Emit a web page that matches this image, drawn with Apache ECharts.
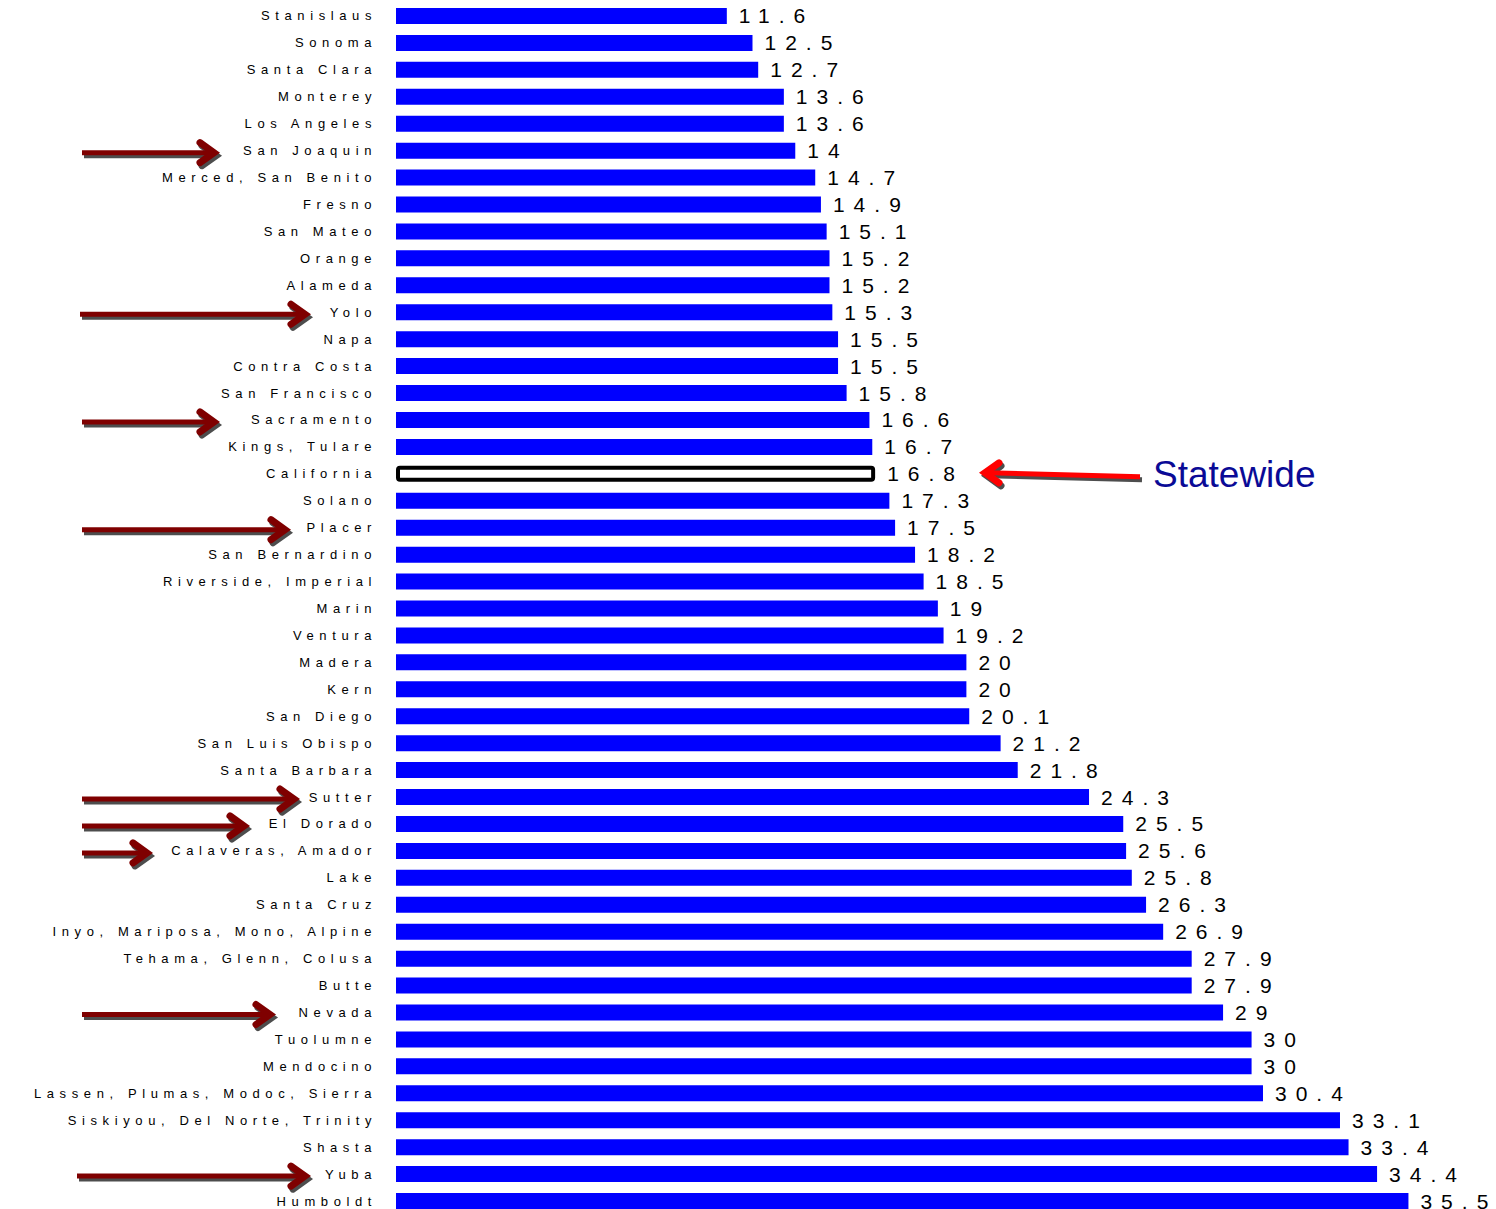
<!DOCTYPE html>
<html>
<head>
<meta charset="utf-8">
<script src="https://cdn.jsdelivr.net/npm/echarts@6/dist/echarts.min.js"></script>
<style>
  html, body { margin: 0; padding: 0; background: #fff; overflow: hidden; }
  #chart { width: 1496px; height: 1220px; }
  /* spaced-out lettering for county names and values */
  #chart svg text[style*="13px"] { letter-spacing: 5.6px; }
  #chart svg text[style*="21px"] { letter-spacing: 9px; }
</style>
</head>
<body>
<div id="chart"></div>
<script>
// Counties, top to bottom
const counties = [
  'Stanislaus', 'Sonoma', 'Santa Clara', 'Monterey', 'Los Angeles', 'San Joaquin',
  'Merced, San Benito', 'Fresno', 'San Mateo', 'Orange', 'Alameda', 'Yolo', 'Napa',
  'Contra Costa', 'San Francisco', 'Sacramento', 'Kings, Tulare', 'California', 'Solano',
  'Placer', 'San Bernardino', 'Riverside, Imperial', 'Marin', 'Ventura', 'Madera', 'Kern',
  'San Diego', 'San Luis Obispo', 'Santa Barbara', 'Sutter', 'El Dorado', 'Calaveras, Amador',
  'Lake', 'Santa Cruz', 'Inyo, Mariposa, Mono, Alpine', 'Tehama, Glenn, Colusa', 'Butte',
  'Nevada', 'Tuolumne', 'Mendocino', 'Lassen, Plumas, Modoc, Sierra',
  'Siskiyou, Del Norte, Trinity', 'Shasta', 'Yuba', 'Humboldt'
];
const rates = [
  11.6, 12.5, 12.7, 13.6, 13.6, 14,
  14.7, 14.9, 15.1, 15.2, 15.2, 15.3, 15.5,
  15.5, 15.8, 16.6, 16.7, 16.8, 17.3,
  17.5, 18.2, 18.5, 19, 19.2, 20, 20,
  20.1, 21.2, 21.8, 24.3, 25.5, 25.6,
  25.8, 26.3, 26.9, 27.9, 27.9,
  29, 30, 30, 30.4,
  33.1, 33.4, 34.4, 35.5
];
// Row that represents the whole state
const statewideName = 'California';
// Highlighted counties (arrow pointing at the name) with the arrow's tail/tip x
const highlighted = ['San Joaquin', 'Yolo', 'Sacramento', 'Placer', 'Sutter', 'El Dorado', 'Calaveras, Amador', 'Nevada', 'Yuba'];
const arrowSpans = [[82, 217], [80, 308], [82, 217], [82, 288], [82, 297], [82, 247], [82, 150], [82, 273], [77, 308]];

const chart = echarts.init(document.getElementById('chart'), null, { renderer: 'svg' });

const barData = counties.map((name, i) => {
  if (name === statewideName) {
    return {
      value: rates[i],
      itemStyle: { color: '#ffffff', borderColor: '#000000', borderWidth: 4, borderRadius: 2 }
    };
  }
  return rates[i];
});

chart.setOption({
  animation: false,
  backgroundColor: '#ffffff',
  grid: { left: 396, top: 2.5, right: 2, height: 1212, containLabel: false },
  xAxis: {
    type: 'value', min: 0, max: 38.5, show: false
  },
  yAxis: {
    type: 'category',
    data: counties,
    inverse: true,
    axisLine: { show: false },
    axisTick: { show: false },
    splitLine: { show: false },
    axisLabel: {
      margin: 19,
      color: '#000000',
      fontFamily: 'Liberation Sans',
      fontSize: 13,
      interval: 0
    }
  },
  series: [{
    type: 'bar',
    data: barData,
    barWidth: 16,
    itemStyle: { color: '#0000ff' },
    label: {
      show: true,
      position: 'right',
      distance: 12,
      color: '#000000',
      fontFamily: 'Liberation Sans',
      fontSize: 21
    }
  }]
});

// Annotation arrow: shaft plus chevron head, with a grey drop copy underneath
function arrowParts(x0, y0, x1, y1, color) {
  const dir = x1 > x0 ? 1 : -1;
  const headLen = 14;
  const headHalf = 10;
  const tipX = x1 - dir * 3;
  const shaft = { lineWidth: 5, stroke: color, fill: null, lineCap: 'butt' };
  const head = { lineWidth: 7, stroke: color, fill: null, lineJoin: 'miter', lineCap: 'round', miterLimit: 10 };
  return [
    { type: 'line', shape: { x1: x0, y1: y0, x2: tipX - dir * 3, y2: y1 }, style: shaft },
    { type: 'polyline', shape: { points: [[tipX - dir * headLen, y1 - headHalf], [tipX, y1], [tipX - dir * headLen, y1 + headHalf]] }, style: head }
  ];
}
function arrow(x0, y0, x1, y1, color) {
  return {
    type: 'group',
    children: arrowParts(x0 + 2, y0 + 3, x1 + 2, y1 + 3, '#4d4d4d')
      .concat(arrowParts(x0, y0, x1, y1, color))
  };
}

const graphics = highlighted.map((name, k) => {
  const y = chart.convertToPixel({ yAxisIndex: 0 }, name) + 2;
  return arrow(arrowSpans[k][0], y, arrowSpans[k][1], y, '#7f0000');
});

const yState = chart.convertToPixel({ yAxisIndex: 0 }, statewideName);
graphics.push(arrow(1140, yState + 3, 982, yState - 1, '#ff0000'));
graphics.push({
  type: 'text',
  x: 1153,
  y: yState + 1,
  style: {
    text: 'Statewide',
    fill: '#0a0a96',
    fontFamily: 'Liberation Sans',
    fontSize: 37,
    verticalAlign: 'middle',
    align: 'left'
  }
});

chart.setOption({ graphic: graphics });
</script>
</body>
</html>
